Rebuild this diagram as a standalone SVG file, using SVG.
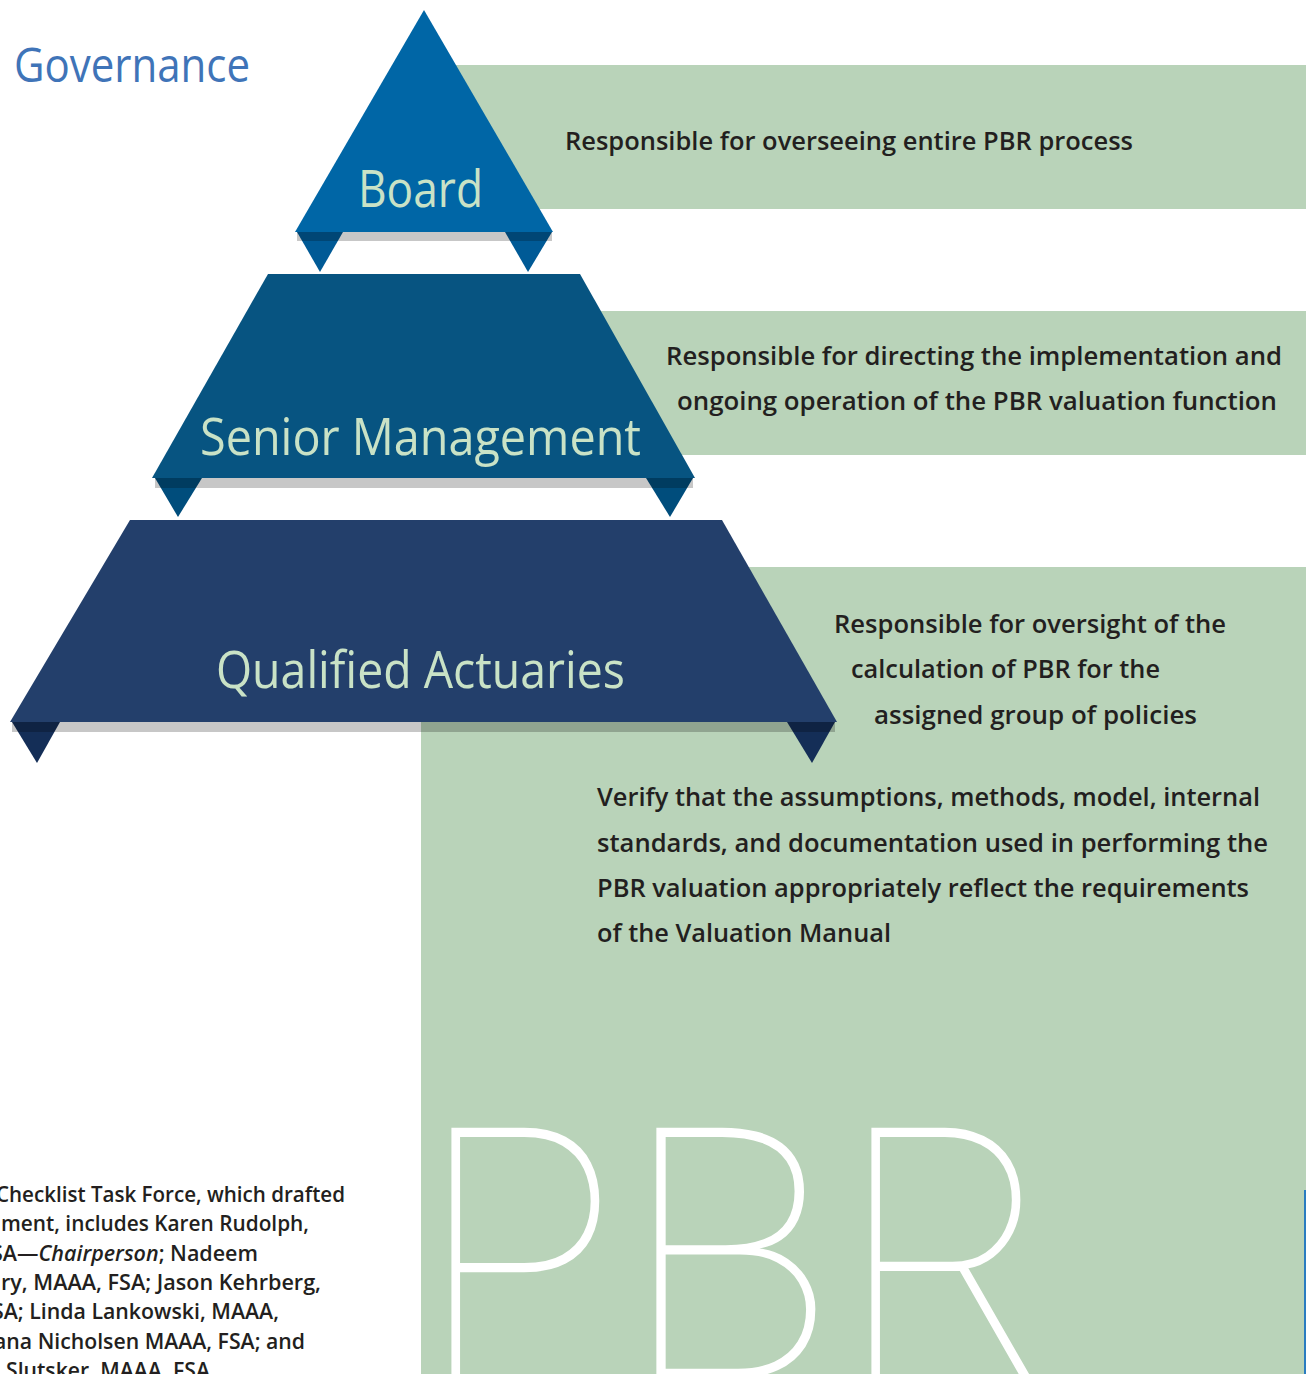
<svg xmlns="http://www.w3.org/2000/svg" width="1306" height="1374" viewBox="0 0 1306 1374">
<style>
.green{fill:#b9d3b9}
.shadow{fill:#000;fill-opacity:0.22}
.lbl{font-family:"Open Sans","Noto Sans",sans-serif;font-size:52px;fill:#c9e2c6}
.desc{font-family:"Open Sans","Noto Sans",sans-serif;font-weight:600;font-size:26px;fill:#231f20}
.note{font-family:"Open Sans","Noto Sans",sans-serif;font-weight:600;font-size:21.5px;fill:#231f20}
.pbr{font-family:Roboto,"Noto Sans",sans-serif;font-weight:100;font-size:352px;fill:#ffffff}
</style>
<rect width="1306" height="1374" fill="#ffffff"/>
<g id="backgrounds">
<rect class="green" x="430" y="65" width="876" height="144"/>
<rect class="green" x="560" y="311" width="746" height="144"/>
<rect class="green" x="421" y="567" width="885" height="807"/>
<rect x="1304" y="1190" width="2" height="184" fill="#2a7cc0"/>
</g>
<text x="14" y="82" font-family="Open Sans, Noto Sans, sans-serif" font-size="48" fill="#3f74b8" textLength="236" lengthAdjust="spacingAndGlyphs">Governance</text>
<g id="pbr-mark">
<text class="pbr" y="1378" transform="translate(452,0) scale(0.93,1)" x="-35">P</text>
<text class="pbr" y="1378" x="622">B</text>
<text class="pbr" y="1378" transform="translate(870,0) scale(0.92,1)" x="-32">R</text>
</g>
<g id="board">
<polygon points="297,232 343,232 320,272" fill="#005a96"/>
<polygon points="505,232 552,232 528,272" fill="#005a96"/>
<polygon points="424,10 553,232 295,232" fill="#0066a6"/>
<rect class="shadow" x="297" y="232" width="255" height="9"/>
<text class="lbl" x="358" y="207" textLength="125" lengthAdjust="spacingAndGlyphs">Board</text>
</g>
<g id="senior-management">
<polygon points="155,478 202,478 178,517" fill="#004d7c"/>
<polygon points="646,478 693,478 670,517" fill="#004d7c"/>
<polygon points="268,274 580,274 695,478 152,478" fill="#075481"/>
<rect class="shadow" x="155" y="478" width="538" height="10"/>
<text class="lbl" x="200" y="455" textLength="441" lengthAdjust="spacingAndGlyphs">Senior Management</text>
</g>
<g id="qualified-actuaries">
<polygon points="12,722 60,722 37,763" fill="#142e57"/>
<polygon points="787,722 835,722 812,763" fill="#142e57"/>
<polygon points="130,520 722,520 837,722 10,722" fill="#233f6b"/>
<rect class="shadow" x="12" y="722" width="823" height="10"/>
<text class="lbl" x="216" y="688" textLength="409" lengthAdjust="spacingAndGlyphs">Qualified Actuaries</text>
</g>
<g id="descriptions">
<text class="desc" x="565" y="150" textLength="568" lengthAdjust="spacingAndGlyphs">Responsible for overseeing entire PBR process</text>
<text class="desc" x="666" y="365" textLength="616" lengthAdjust="spacingAndGlyphs">Responsible for directing the implementation and</text>
<text class="desc" x="677" y="410" textLength="600" lengthAdjust="spacingAndGlyphs">ongoing operation of the PBR valuation function</text>
<text class="desc" x="834" y="633" textLength="392" lengthAdjust="spacingAndGlyphs">Responsible for oversight of the</text>
<text class="desc" x="851" y="678" textLength="309" lengthAdjust="spacingAndGlyphs">calculation of PBR for the</text>
<text class="desc" x="874" y="724" textLength="323" lengthAdjust="spacingAndGlyphs">assigned group of policies</text>
<text class="desc" x="597" y="806" textLength="663" lengthAdjust="spacingAndGlyphs">Verify that the assumptions, methods, model, internal</text>
<text class="desc" x="597" y="852" textLength="671" lengthAdjust="spacingAndGlyphs">standards, and documentation used in performing the</text>
<text class="desc" x="597" y="897" textLength="652" lengthAdjust="spacingAndGlyphs">PBR valuation appropriately reflect the requirements</text>
<text class="desc" x="597" y="942" textLength="294" lengthAdjust="spacingAndGlyphs">of the Valuation Manual</text>
</g>
<g id="task-force-note">
<text class="note" x="-4" y="1202" textLength="349" lengthAdjust="spacingAndGlyphs">Checklist Task Force, which drafted</text>
<text class="note" x="1" y="1231" textLength="308" lengthAdjust="spacingAndGlyphs">ment, includes Karen Rudolph,</text>
<text class="note" x="-9" y="1261" textLength="267" lengthAdjust="spacingAndGlyphs">SA—<tspan font-style="italic">Chairperson</tspan>; Nadeem</text>
<text class="note" x="1" y="1290" textLength="320" lengthAdjust="spacingAndGlyphs">ry, MAAA, FSA; Jason Kehrberg,</text>
<text class="note" x="-8" y="1319" textLength="287" lengthAdjust="spacingAndGlyphs">SA; Linda Lankowski, MAAA,</text>
<text class="note" x="-6" y="1349" textLength="311" lengthAdjust="spacingAndGlyphs">ana Nicholsen MAAA, FSA; and</text>
<text class="note" x="6" y="1378" textLength="204" lengthAdjust="spacingAndGlyphs">Slutsker, MAAA, FSA</text>
</g>
</svg>
